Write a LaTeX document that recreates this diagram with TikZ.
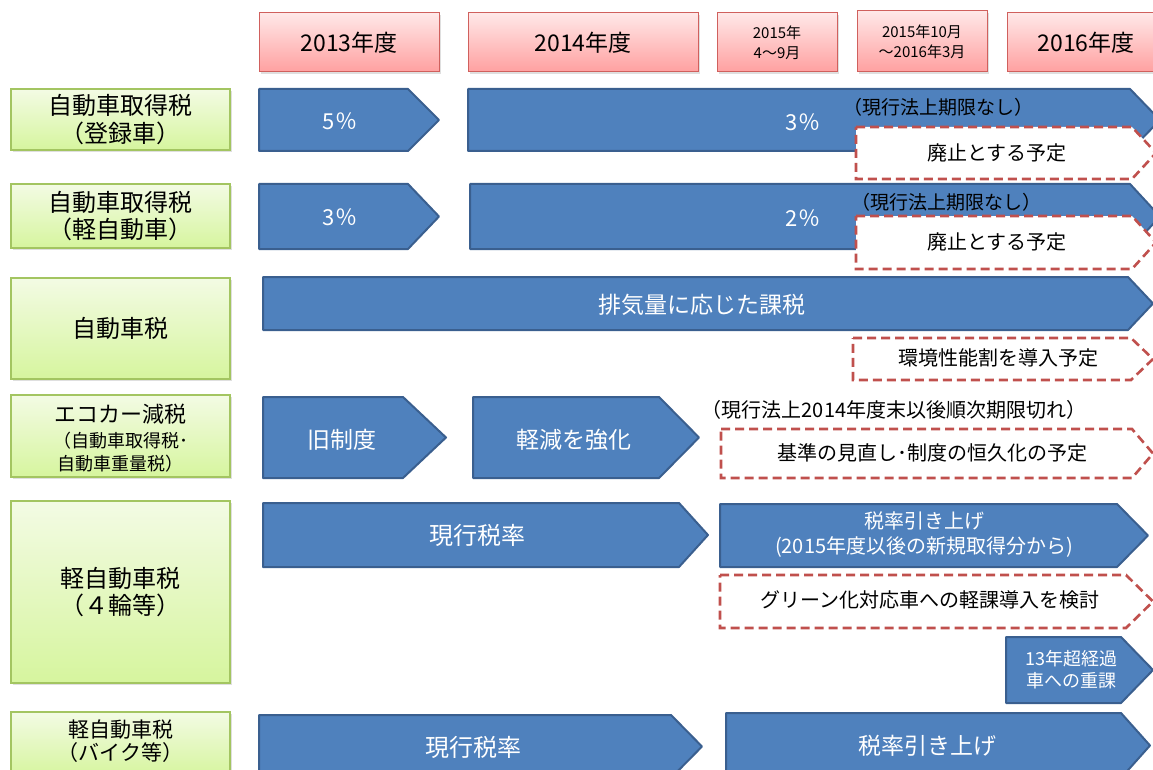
\documentclass[tikz,border=0pt]{standalone}
\usepackage{fontspec}
\setmainfont{Noto Sans CJK JP}
\usetikzlibrary{shadows}
\definecolor{bluefill}{HTML}{4F81BD}
\definecolor{blueborder}{HTML}{3A5F8F}
\definecolor{hdrtop}{HTML}{FFE8E8}
\definecolor{hdrbot}{HTML}{FFA0A0}
\definecolor{hdrborder}{HTML}{D0605D}
\definecolor{lbltop}{HTML}{F3FBE4}
\definecolor{lblbot}{HTML}{D6F59E}
\definecolor{lblborder}{HTML}{A3C561}
\definecolor{dashred}{HTML}{C0504D}
\newcommand\myfs[2]{\fontsize{#1}{#2}\selectfont}
% pentagon arrow: style, x1, y1, x2, y2, tip length
\newcommand\pent[6]{\draw[#1] (#2,#3) -- ({#4-#6},#3) -- (#4,{(#3+#5)/2}) -- ({#4-#6},#5) -- (#2,#5) -- cycle;}
\begin{document}
\begin{tikzpicture}[x=1pt,y=-1pt,
  hdrbox/.style={draw=hdrborder, line width=1pt, top color=hdrtop, bottom color=hdrbot,
    drop shadow={opacity=0.25, shadow xshift=1.5pt, shadow yshift=-2pt}, inner sep=0pt, align=center},
  lblbox/.style={draw=lblborder, line width=1.3pt, top color=lbltop, bottom color=lblbot,
    drop shadow={opacity=0.25, shadow xshift=1.5pt, shadow yshift=-2pt}, inner sep=0pt, align=center},
  bluearr/.style={draw=blueborder, line width=2pt, fill=bluefill, line join=round},
  dasharr/.style={draw=dashred, line width=2.6pt, dash pattern=on 9pt off 5pt, fill=white},
  wtxt/.style={text=white, inner sep=0pt, align=center},
  btxt/.style={text=black, inner sep=0pt, align=center}]
\useasboundingbox (0,0) rectangle (1153,770);
\clip (0,0) rectangle (1153,770);

% ---------- headers ----------
\node[hdrbox, minimum width=180pt, minimum height=59pt, font=\myfs{23}{27}] (h13) at (349,42.5) {2013年度};
\node[hdrbox, minimum width=230pt, minimum height=59pt, font=\myfs{23}{27}] (h14) at (583,42.5) {2014年度};
\node[hdrbox, minimum width=120pt, minimum height=59pt, font=\myfs{15}{20}] (h15a) at (777,42.5) {2015年\\4～9月};
\node[hdrbox, minimum width=130pt, minimum height=61pt, font=\myfs{15}{20}] (h15b) at (922,41.5) {2015年10月\\～2016年3月};
\node[hdrbox, minimum width=158pt, minimum height=59pt, font=\myfs{23}{27}] (h16) at (1086,42.5) {2016年度};

% ---------- row labels ----------
\node[lblbox, minimum width=219pt, minimum height=61pt, font=\myfs{24}{28}] (g1) at (120.5,119.5) {自動車取得税\\（登録車）};
\node[lblbox, minimum width=219pt, minimum height=64pt, font=\myfs{24}{27}] (g2) at (120.5,216) {自動車取得税\\（軽自動車）};
\node[lblbox, minimum width=219pt, minimum height=101pt, font=\myfs{24}{28}] (g3) at (120.5,328.5) {自動車税};
\node[lblbox, minimum width=219pt, minimum height=82pt] (g4) at (120.5,436) {};
\node[btxt, font=\myfs{22}{25}] (g4a) at (120.5,414) {エコカー減税};
\node[btxt, font=\myfs{18}{23}] (g4b) at (120.5,452) {（自動車取得税･\\自動車重量税）};
\node[lblbox, minimum width=219pt, minimum height=182pt, font=\myfs{24}{27}] (g5) at (120.5,592) {軽自動車税\\（４輪等）};
\node[lblbox, minimum width=219pt, minimum height=64pt] (g6) at (120.5,744) {};
\node[btxt, font=\myfs{21}{23}] (g6t) at (120.5,741.5) {軽自動車税\\（バイク等）};

% ---------- blue arrows ----------
\pent{bluearr}{259}{89}{439}{151}{31}
\pent{bluearr}{468}{89}{1160}{151}{30}
\pent{bluearr}{259}{184}{439}{249}{31}
\pent{bluearr}{470}{184}{1160}{249}{30}
\pent{bluearr}{263}{277}{1153}{330}{25}
\pent{bluearr}{263}{397}{446}{478}{43}
\pent{bluearr}{473}{397}{699}{478}{40}
\pent{bluearr}{263}{503}{708}{567}{29}
\pent{bluearr}{720}{504}{1148}{567}{31}
\pent{bluearr}{1006}{637}{1153}{703}{32}
\pent{bluearr}{259}{715}{702}{778}{31}
\pent{bluearr}{726}{713}{1150}{778}{29}

% ---------- dashed arrows ----------
\pent{dasharr}{856}{127}{1156}{179}{24}
\pent{dasharr}{856}{216}{1156}{269}{24}
\pent{dasharr}{853}{338}{1153}{380}{22}
\pent{dasharr}{721}{429}{1153}{478}{21}
\pent{dasharr}{720}{575}{1153}{628}{27}

% ---------- texts ----------
\node[wtxt, font=\myfs{22}{26}] (t1a) at (340,121) {5％};
\node[wtxt, font=\myfs{22}{26}] (t1b) at (803,122) {3％};
\node[btxt, font=\myfs{19}{22}] (n1) at (938,107) {（現行法上期限なし）};
\node[btxt, font=\myfs{20}{24}] (d1) at (997,153) {廃止とする予定};

\node[wtxt, font=\myfs{22}{26}] (t2a) at (340,217) {3％};
\node[wtxt, font=\myfs{22}{26}] (t2b) at (803,218) {2％};
\node[btxt, font=\myfs{19}{22}] (n2) at (946,202) {（現行法上期限なし）};
\node[btxt, font=\myfs{20}{24}] (d2) at (997,242) {廃止とする予定};

\node[wtxt, font=\myfs{23}{27}] (t3) at (702,305) {排気量に応じた課税};
\node[btxt, font=\myfs{20}{24}] (d3) at (998,358) {環境性能割を導入予定};

\node[wtxt, font=\myfs{23}{27}] (t4a) at (342,440) {旧制度};
\node[wtxt, font=\myfs{23}{27}] (t4b) at (574,440) {軽減を強化};
\node[btxt, font=\myfs{20}{22}] (n4) at (894,410) {（現行法上2014年度末以後順次期限切れ）};
\node[btxt, font=\myfs{20}{24}] (d4) at (932,453) {基準の見直し･制度の恒久化の予定};

\node[wtxt, font=\myfs{24}{27}] (t5a) at (477,535) {現行税率};
\node[wtxt, font=\myfs{20}{25}] (t5b) at (924,535) {税率引き上げ\\(2015年度以後の新規取得分から)};
\node[btxt, font=\myfs{20}{24}] (d5) at (930,600) {グリーン化対応車への軽課導入を検討};
\node[wtxt, font=\myfs{18}{22}] (t5c) at (1071,670) {13年超経過\\車への重課};

\node[wtxt, font=\myfs{24}{27}] (t6a) at (473,747) {現行税率};
\node[wtxt, font=\myfs{23}{27}] (t6b) at (927,746) {税率引き上げ};
\end{tikzpicture}
\end{document}
